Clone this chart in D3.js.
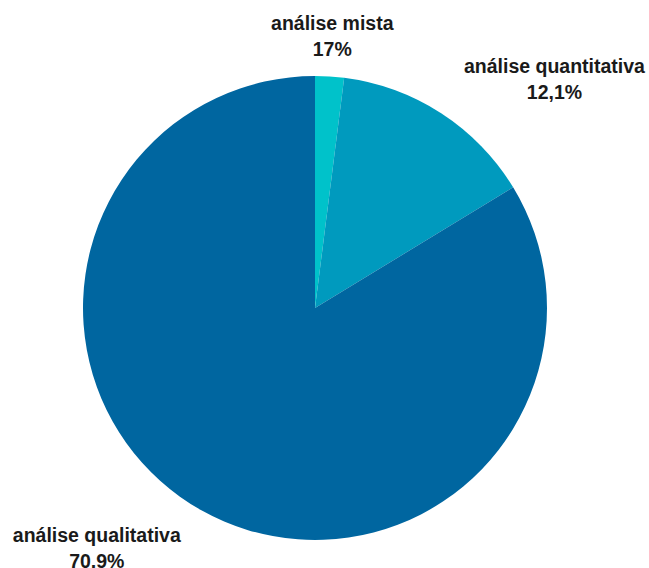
<!DOCTYPE html>
<html lang="pt">
<head>
    <meta charset="UTF-8">
    <title>Tipo de análise</title>
    <script src="https://d3js.org/d3.v7.min.js"></script>
    <style>
        body { margin: 0; background: #fff; }
        text { font-family: "Liberation Sans", Arial, sans-serif; font-weight: bold; font-size: 19.5px; fill: #1a1a1a; }
    </style>
</head>
<body>
    <svg width="649" height="568"></svg>
    <script>
        // dados
        const categorias = ["análise mista", "análise quantitativa", "análise qualitativa"];
        const valores = [1.7, 12.1, 70.9];
        const rotulos = ["17%", "12,1%", "70,9%"];
        const cores = ["#00c2ca", "#009abe", "#0066a0"];

        const cx = 315, cy = 308, raio = 232;

        const svg = d3.select("svg");
        const g = svg.append("g").attr("transform", `translate(${cx},${cy})`);

        const dados = categorias.map((c, i) => ({ categoria: c, valor: valores[i], rotulo: rotulos[i] }));

        const pie = d3.pie().sort(null).value(d => d.valor);
        const arco = d3.arc().innerRadius(0).outerRadius(raio);
        const arcoRotulo = d3.arc().innerRadius(274).outerRadius(274);

        const color = d3.scaleOrdinal().domain(categorias).range(cores);

        const fatias = pie(dados);

        g.selectAll("path")
            .data(fatias)
            .join("path")
            .attr("d", arco)
            .attr("fill", d => color(d.data.categoria));

        // rótulos: perto do topo ficam centrados, nos lados ficam encostados
        fatias.forEach(d => {
            const [x, y] = arcoRotulo.centroid(d);
            const meio = (d.startAngle + d.endAngle) / 2;
            const lado = Math.abs(Math.sin(meio)) < 0.15 ? 0 : (Math.sin(meio) > 0 ? 1 : -1);

            const t = g.append("text").attr("text-anchor", "middle");
            const l1 = t.append("tspan").attr("y", y - 5).text(d.data.categoria);
            const l2 = t.append("tspan").attr("y", y + 21).text(d.data.rotulo);
            const w = l1.node().getComputedTextLength();
            const xm = x + lado * w / 2;
            l1.attr("x", xm);
            l2.attr("x", xm);
        });
    </script>
</body>
</html>
